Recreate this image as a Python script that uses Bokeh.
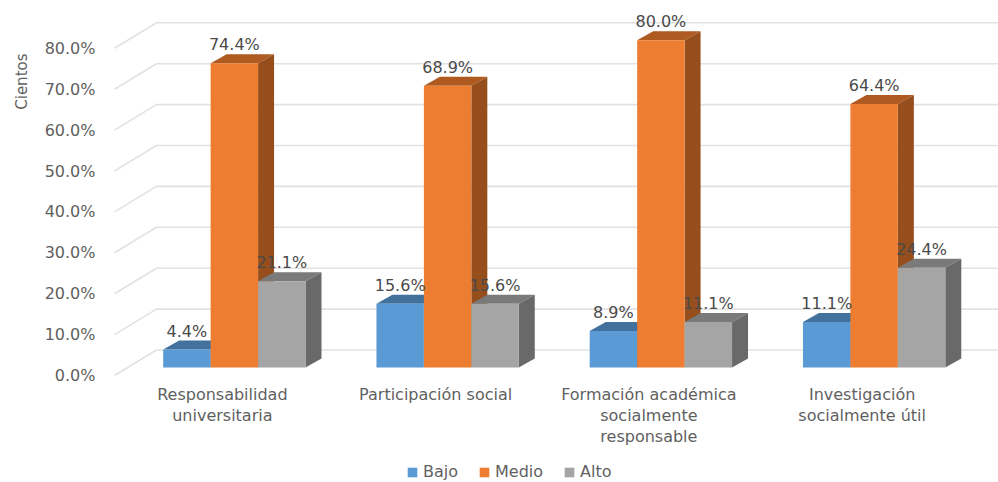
from bokeh.plotting import figure
from bokeh.models import (Range1d, LinearAxis, FixedTicker, PrintfTickFormatter, Legend, LegendItem,
                          ColumnDataSource, Title)
from bokeh.core.properties import value
from bokeh.embed import file_html
from bokeh.resources import INLINE

categories = ["Responsabilidad\nuniversitaria", "Participación social",
              "Formación académica\nsocialmente\nresponsable", "Investigación\nsocialmente útil"]
bajo = [4.4, 15.6, 8.9, 11.1]
medio = [74.4, 68.9, 80.0, 64.4]
alto = [21.1, 15.6, 11.1, 24.4]
y_ticks = [0, 10, 20, 30, 40, 50, 60, 70, 80]

FONT = "DejaVu Sans"
TXT = "#5f5f5f"
series = [("Bajo", bajo, "#5B9BD5", "#41719C", "#3A6690"),
          ("Medio", medio, "#ED7D31", "#AE5A21", "#964F1C"),
          ("Alto", alto, "#A5A5A5", "#7A7A7A", "#696969")]

PX_X = 213.5
PX_Y = 4.09
ML, MT = 105, 8
FW, FH = 998 - ML, 482 - MT
X0 = 128.0
Y0 = 115.0
BW = 47.5 / PX_X
DX = 16 / PX_X
DY = 9 / PX_Y

p = figure(width=998, height=482, output_backend="svg", toolbar_location=None,
           x_axis_location=None, y_axis_location=None,
           x_range=Range1d(-X0 / PX_X, (FW - X0) / PX_X),
           y_range=Range1d(-Y0 / PX_Y, (FH - Y0) / PX_Y),
           min_border_left=ML, min_border_right=0, min_border_top=MT, min_border_bottom=0)
p.outline_line_color = None
p.grid.visible = False
p.background_fill_color = "white"

p.extra_y_ranges["lab"] = Range1d(-107 / PX_Y, (FH - 107) / PX_Y)

yax = LinearAxis(y_range_name="lab", ticker=FixedTicker(ticks=y_ticks),
                 formatter=PrintfTickFormatter(format="%.1f%%"))
yax.axis_line_color = None
yax.major_tick_line_color = None
yax.minor_tick_line_color = None
yax.major_label_standoff = 5
yax.major_label_text_font = FONT
yax.major_label_text_font_size = "16px"
yax.major_label_text_color = TXT
p.add_layout(yax, "left")

p.add_layout(Title(text="Cientos", align="right", offset=45, standoff=21, text_font=FONT,
                   text_font_style="normal", text_font_size="15px", text_color=TXT), "left")

back = 17.5 / PX_Y
front = -8 / PX_Y
wall_l = (155 - ML - X0) / PX_X
edge_l = (113 - ML - X0) / PX_X
xs, ys = [], []
for v in y_ticks:
    xs.append([edge_l, wall_l, p.x_range.end])
    ys.append([v + front, v + back, v + back])
p.multi_line(xs, ys, line_color="#e2e2e2", line_width=1.6)

groups = list(range(len(categories)))
items = []
for k, (name, vals, c_front, c_top, c_side) in enumerate(series):
    lefts = [g + (k - 1.5) * BW for g in groups]
    rights = [l + BW for l in lefts]
    p.patches([[l, r, r + DX, l + DX] for l, r in zip(lefts, rights)],
              [[v, v, v + DY, v + DY] for v in vals], fill_color=c_top, line_color=None)
    p.patches([[r, r + DX, r + DX, r] for r in rights],
              [[0, DY, v + DY, v] for v in vals], fill_color=c_side, line_color=None)
    r = p.quad(left=lefts, right=rights, bottom=0, top=vals, fill_color=c_front, line_color=None)
    items.append(LegendItem(label=name, renderers=[r]))

for k, (name, vals, *_rest) in enumerate(series):
    src = ColumnDataSource(dict(x=[g + (k - 1) * BW for g in groups], y=vals,
                                t=["%.1f%%" % v for v in vals]))
    p.text("x", "y", "t", source=src, text_align="center", text_baseline="middle", y_offset=-18.5,
           text_font=value(FONT), text_font_size="16px", text_color="#4a4a4a")

cat_src = ColumnDataSource(dict(x=groups, y=[0] * len(groups), t=categories))
p.text("x", "y", "t", source=cat_src, text_align="center", text_baseline="top",
       x_offset=-12, y_offset=17, text_line_height=1.13,
       text_font=value(FONT), text_font_size="16px", text_color=TXT)

legend = Legend(items=items, orientation="horizontal", location=(405 - ML, 1),
                border_line_color=None, background_fill_alpha=0, padding=0, margin=0,
                glyph_width=12, glyph_height=12, spacing=20, label_standoff=5,
                label_text_font=FONT, label_text_font_size="16px", label_text_color=TXT)
p.add_layout(legend, "center")

open("out.html", "w").write(file_html(p, INLINE))
